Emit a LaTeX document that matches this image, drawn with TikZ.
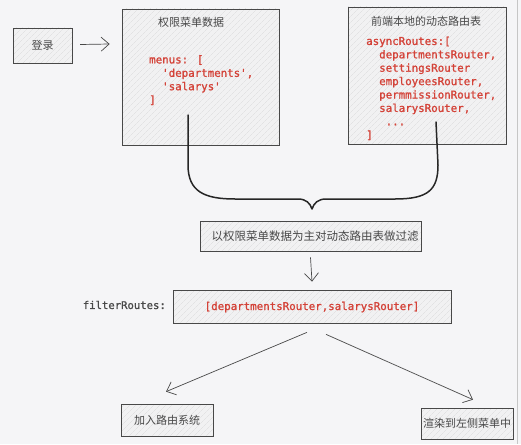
\documentclass[tikz,border=0pt]{standalone}
\usepackage{fontspec}
\newfontfamily\cjk{Noto Sans CJK SC}
\newfontfamily\code[FakeBold=1.2]{DejaVu Sans Mono}
\usetikzlibrary{arrows.meta,patterns.meta,calc}
\definecolor{bg}{RGB}{245,245,247}
\definecolor{codered}{RGB}{212,66,56}
\definecolor{ink}{RGB}{72,72,72}
\definecolor{boxfill}{RGB}{241,241,242}
\begin{document}
\begin{tikzpicture}[x=1pt,y=-1pt,
  box/.style={draw=ink, line width=0.7pt, inner sep=0pt, rectangle,
    preaction={fill=boxfill},
    pattern={Lines[angle=45,distance=4pt,line width=0.35pt]}, pattern color=gray!28},
  cn/.style={font={\cjk\fontsize{11}{13}\selectfont}, text=ink},
  codetxt/.style={font={\code\fontsize{10.8}{13.4}\selectfont}, text=codered, align=left, inner sep=0pt},
  arr/.style={draw=ink, line width=0.7pt, -{Straight Barb[length=8pt,width=14pt,line width=0.7pt]}},
  brace/.style={draw=black!85, line width=1.5pt, line cap=round, line join=round}]
\useasboundingbox (0,0) rectangle (521,444);
\fill[bg] (0,0) rectangle (521,444);
\draw[gray!45, line width=0.6pt] (517,0) -- (517,444);

% boxes
\node[box, minimum width=59pt, minimum height=35pt] (login) at (42.5,45.5) {};
\node[cn] (logintxt) at (login.center) {登录};

\node[box, minimum width=157pt, minimum height=136pt] (menu) at (200.5,77) {};
\node[cn] (menutitle) at (191,22) {权限菜单数据};
\node[codetxt, anchor=north west] (menucode) at (149,55) {menus: [\\\ \ 'departments',\\\ \ 'salarys'\\]};

\node[box, minimum width=158pt, minimum height=137pt] (async) at (427,75.5) {};
\node[cn] (asynctitle) at (426,21) {前端本地的动态路由表};
\node[codetxt, anchor=north west] (asynccode) at (366,36.5) {asyncRoutes:[\\\ \ departmentsRouter,\\\ \ settingsRouter\\\ \ employeesRouter,\\\ \ permmissionRouter,\\\ \ salarysRouter,\\\ \ \ ...\\]};

\node[box, minimum width=221pt, minimum height=30pt] (filter) at (310.5,236) {};
\node[cn, font={\cjk\fontsize{11.5}{14}\selectfont}, inner sep=0pt] (filtertxt) at (315,236) {以权限菜单数据为主对动态路由表做过滤};

\node[box, minimum width=278pt, minimum height=33pt] (result) at (312,306.5) {};
\node[codetxt] (resulttxt) at (312,307) {[departmentsRouter,salarysRouter]};
\node[font={\code\fontsize{10.6}{13}\selectfont}, text=ink, anchor=east, inner sep=0pt] (frlabel) at (166,305) {filterRoutes:};

\node[box, minimum width=92pt, minimum height=32pt] (add) at (167,420) {};
\node[cn] (addtxt) at (add.center) {加入路由系统};

\node[box, minimum width=92pt, minimum height=31pt] (render) at (467,423.5) {};
\node[cn] (rendertxt) at (render.center) {渲染到左侧菜单中};

% connectors
\draw[arr] ($(login.east)+(8,-1)$) -- ($(menu.west)+(-12,-33)$);
\draw[arr] ($(filter.south)+(0,6)$) -- ($(result.north)+(0,-8)$);
\draw[arr] ($(result.south)+(-5,9)$) -- ($(add.north)+(-1,-12)$);
\draw[arr] ($(result.south)+(14,11)$) -- ($(render.north)+(6,-8)$);

% brace
\coordinate (bl) at (188,115);
\coordinate (br) at (436,122);
\coordinate (tip) at (312,209);
\draw[brace] (bl) -- (188,165) .. controls (188,192) and (205,199) .. (235,199)
  -- (298,199) .. controls (306,199) and (310,203) .. (tip)
  .. controls (314,203) and (318,199) .. (326,199)
  -- (395,199) .. controls (428,199) and (438,190) .. (438,165) -- (br);
\end{tikzpicture}
\end{document}
